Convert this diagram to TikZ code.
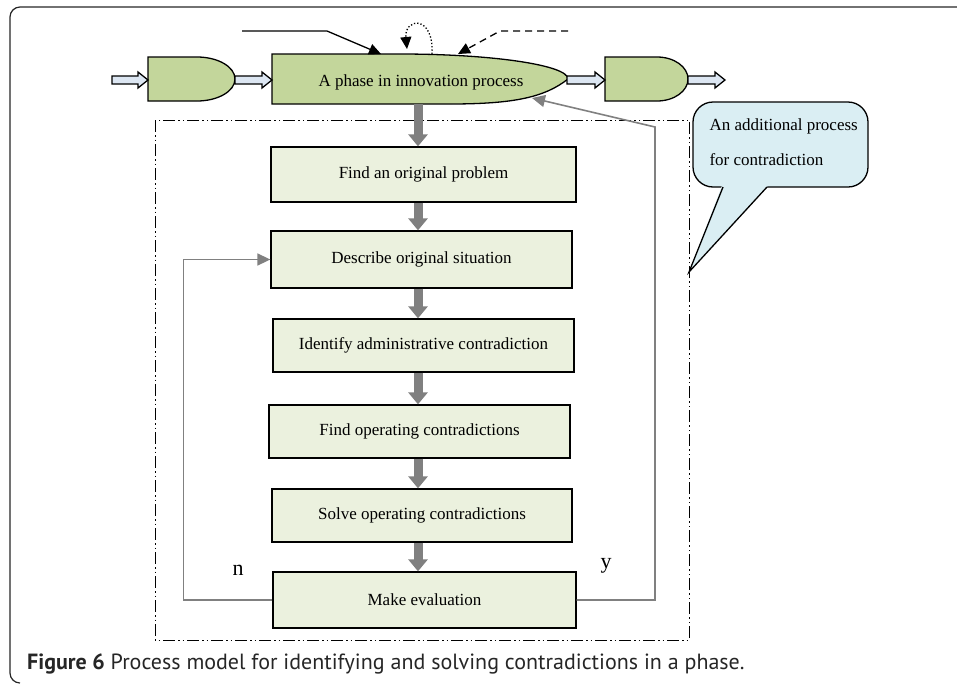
\documentclass[tikz,border=0pt]{standalone}
\usepackage{fontspec}
\setmainfont{Liberation Serif}
\newfontfamily\capfont{PT Sans}
\usetikzlibrary{arrows.meta}
\definecolor{phasegreen}{HTML}{C3D69B}
\definecolor{boxgreen}{HTML}{EBF1DE}
\definecolor{arrowblue}{HTML}{DCE6F2}
\definecolor{callblue}{HTML}{DAEEF3}
\definecolor{flowgray}{HTML}{808080}
\tikzset{
  txt/.style={font=\fontsize{17}{20}\selectfont},
  stepbox/.style={draw, fill=boxgreen, line width=1.3pt, inner sep=0pt, txt},
  blockarrow/.style={draw, fill=arrowblue, line width=1.3pt, line join=miter},
  greenshape/.style={draw, fill=phasegreen, line width=1.3pt},
  thickflow/.style={draw=flowgray, line width=9pt, -{Triangle[width=19pt,length=12pt]}},
  thinflow/.style={draw=flowgray, line width=1.6pt, -{Triangle[width=12pt,length=13pt]}},
  blackin/.style={line width=1.3pt, -{Triangle[width=11pt,length=12pt]}},
  dashdotbox/.style={line width=1pt, dash pattern=on 12pt off 3pt on 1.5pt off 3pt on 1.5pt off 3pt},
}
\newcommand\myblockarrow[2]{%
  \draw[blockarrow] (#1,76) -- ({#2-10},76) -- ({#2-10},72) -- (#2,80) -- ({#2-10},88) -- ({#2-10},84) -- (#1,84) -- cycle;}
\begin{document}
\begin{tikzpicture}[x=1pt,y=-1pt]
\useasboundingbox (0,0) rectangle (957,683);
% outer frame
\draw[line width=1.2pt, black!85] (957,7) -- (20,7) arc[start angle=90,end angle=180,radius=10pt] -- (10,673) arc[start angle=180,end angle=270,radius=10pt];

% dash-dot container
\draw[dashdotbox] (155,120) rectangle (689,640);

% top row shapes
\draw[greenshape] (148,57) -- (197,57) arc[start angle=90,end angle=-90,x radius=38pt,y radius=22pt] -- (148,101) -- cycle;
\draw[greenshape] (605,57) -- (657,57) arc[start angle=90,end angle=-90,x radius=31pt,y radius=22pt] -- (605,101) -- cycle;
\draw[greenshape] (272,54) -- (400,54) arc[start angle=90,end angle=0,x radius=168pt,y radius=25pt] .. controls (545,97) and (515,104) .. (450,104) -- (272,104) -- cycle;
\node[minimum width=296pt, minimum height=50pt, inner sep=0pt] (phase) at (420,79) {};
\node[txt, anchor=base] (phasetext) at (421,86) {A phase in innovation process};

\myblockarrow{112}{148}
\myblockarrow{235}{272}
\myblockarrow{567}{605}
\myblockarrow{688}{725}

% inputs from above
\coordinate (s1) at (242,31);
\coordinate (k1) at (327,31);
\coordinate (t1) at (381,54);
\draw[blackin] (s1) -- (k1) -- (t1);
\coordinate (s2) at (432,54);
\coordinate (t2) at (407,49);
\draw[blackin, dotted] (s2) .. controls (434,14) and (404,18) .. (t2);
\coordinate (s3) at (568,31);
\coordinate (k3) at (500,31);
\coordinate (t3) at (458,54);
\draw[blackin, dash pattern=on 7pt off 5pt] (s3) -- (k3) -- (t3);

% flow boxes
\node[stepbox, minimum width=305pt, minimum height=55pt] (b1) at (423.5,174.5) {Find an original problem};
\node[stepbox, minimum width=301pt, minimum height=57pt] (b2) at (421.5,259.5) {Describe original situation};
\node[stepbox, minimum width=301pt, minimum height=53pt] (b3) at (423.5,345.5) {Identify administrative contradiction};
\node[stepbox, minimum width=301pt, minimum height=53pt] (b4) at (419.5,431.5) {Find operating contradictions};
\node[stepbox, minimum width=300pt, minimum height=53pt] (b5) at (422,515.5) {Solve operating contradictions};
\node[stepbox, minimum width=303pt, minimum height=56pt] (b6) at (424.5,600) {Make evaluation};

\coordinate (ax) at (418,0);
\draw[thickflow] (phase.south -| ax) -- (b1.north -| ax);
\draw[thickflow] (b1.south -| ax) -- (b2.north -| ax);
\draw[thickflow] (b2.south -| ax) -- (b3.north -| ax);
\draw[thickflow] (b3.south -| ax) -- (b4.north -| ax);
\draw[thickflow] (b4.south -| ax) -- (b5.north -| ax);
\draw[thickflow] (b5.south -| ax) -- (b6.north -| ax);

% loops
\draw[thinflow] (b6.west) -- ++(-89,0) |- (b2.west);
\coordinate (yc) at (655,127);
\coordinate (ytip) at (532,98);
\draw[thinflow] (b6.east) -- (b6.east -| yc) -- (yc) -- (ytip);
\node[font=\fontsize{22}{24}\selectfont] (nlab) at (238,570) {n};
\node[font=\fontsize{22}{24}\selectfont] (ylab) at (606,566) {y};

% callout
\draw[fill=callblue, line width=1.3pt, rounded corners=20pt] (693,102) rectangle (868,187);
\fill[callblue] (722,185.6) -- (768,185.6) -- (689,272) -- cycle;
\draw[line width=1.3pt] (723,187) -- (689,272) -- (767,187);
\node[txt, anchor=base west] (c1) at (706,130) {An additional process};
\node[txt, anchor=base west] (c2) at (706,165) {for contradiction};

% caption
\node[anchor=base west, inner sep=0pt, text=black!85, font=\capfont\fontsize{22}{24}\selectfont] (cap) at (27,669) {\textbf{Figure 6} Process model for identifying and solving contradictions in a phase.};
\end{tikzpicture}
\end{document}
